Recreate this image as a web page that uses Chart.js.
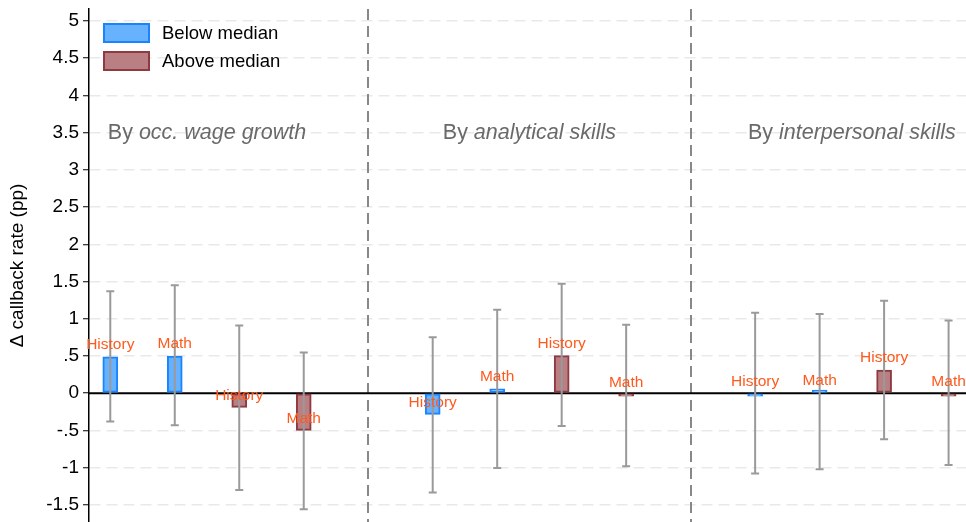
<!DOCTYPE html>
<html>
<head>
<meta charset="utf-8">
<script src="https://cdn.jsdelivr.net/npm/chart.js@4"></script>
<style>
  html, body { margin: 0; padding: 0; background: #fff; }
  #wrap { width: 966px; height: 522px; }
</style>
</head>
<body>
<div id="wrap"><canvas id="chart"></canvas></div>
<script>
// slot positions along the x axis (4 and 9 are the group separators)
const belowX = [0, 1, 5, 6, 10, 11];
const aboveX = [2, 3, 7, 8, 12, 13];
const separatorX = [4, 9];

const belowLabels = ['History', 'Math', 'History', 'Math', 'History', 'Math'];
const aboveLabels = ['History', 'Math', 'History', 'Math', 'History', 'Math'];

// point estimates and 95% CI
const belowVals = [0.49, 0.50, -0.285, 0.06, -0.01, 0.01];
const belowLo = [-0.38, -0.43, -1.335, -1.005, -1.08, -1.02];
const belowHi = [1.37, 1.45, 0.75, 1.12, 1.08, 1.065];

const aboveVals = [-0.19, -0.50, 0.505, -0.02, 0.31, -0.01];
const aboveLo = [-1.30, -1.56, -0.44, -0.98, -0.62, -0.965];
const aboveHi = [0.91, 0.545, 1.47, 0.92, 1.24, 0.975];

const sectionCenters = [1.5, 6.5, 11.5];
const sectionPrefix = ['By ', 'By ', 'By '];
const sectionTitles = ['occ. wage growth', 'analytical skills', 'interpersonal skills'];
const sectionY = 3.5;

const yTicks = [-1.5, -1, -0.5, 0, 0.5, 1, 1.5, 2, 2.5, 3, 3.5, 4, 4.5, 5];
const yTickLabels = ['-1.5', '-1', '-.5', '0', '.5', '1', '1.5', '2', '2.5', '3', '3.5', '4', '4.5', '5'];

const FONT = '"Liberation Sans", Arial, Helvetica, sans-serif';
const colors = {
    belowFill: '#66b2ff',
    belowLine: '#1a84ff',
    aboveFill: '#b97f83',
    aboveLine: '#8d3a41',
    ci: '#9a9a9a',
    label: '#ff5a1e',
    section: '#6a6a6a'
};

const toPoints = (xs, ys) => xs.map((x, i) => ({ x: x, y: ys[i] }));

/**
 * Background decorations: group separators, zero line, section titles
 */
const backdrop = {
    id: 'backdrop',
    beforeDatasetsDraw(chart) {
        const { ctx, chartArea, scales: { x, y } } = chart;
        ctx.save();
        ctx.strokeStyle = '#888';
        ctx.lineWidth = 2;
        ctx.setLineDash([11, 6]);
        separatorX.forEach(v => {
            const px = Math.round(x.getPixelForValue(v));
            ctx.beginPath();
            ctx.moveTo(px, chartArea.top);
            ctx.lineTo(px, chartArea.bottom);
            ctx.stroke();
        });
        ctx.setLineDash([]);
        ctx.strokeStyle = '#000';
        ctx.lineWidth = 2;
        const py = y.getPixelForValue(0);
        ctx.beginPath();
        ctx.moveTo(chartArea.left, py);
        ctx.lineTo(chartArea.right, py);
        ctx.stroke();

        ctx.fillStyle = colors.section;
        ctx.textBaseline = 'middle';
        ctx.textAlign = 'left';
        sectionCenters.forEach((c, i) => {
            ctx.font = '21.5px ' + FONT;
            const w1 = ctx.measureText(sectionPrefix[i]).width;
            ctx.font = 'italic 21.5px ' + FONT;
            const w2 = ctx.measureText(sectionTitles[i]).width;
            const left = x.getPixelForValue(c) - (w1 + w2) / 2;
            const ty = y.getPixelForValue(sectionY);
            ctx.font = '21.5px ' + FONT;
            ctx.fillText(sectionPrefix[i], left, ty);
            ctx.font = 'italic 21.5px ' + FONT;
            ctx.fillText(sectionTitles[i], left + w1, ty);
        });
        ctx.restore();
    }
};

/**
 * Confidence intervals, bar labels and legend
 */
const overlay = {
    id: 'overlay',
    afterDatasetsDraw(chart) {
        const { ctx, chartArea, scales: { x, y } } = chart;
        ctx.save();
        const drawCI = (xs, lo, hi) => {
            ctx.strokeStyle = colors.ci;
            ctx.lineWidth = 2;
            xs.forEach((v, i) => {
                const px = x.getPixelForValue(v);
                const y1 = y.getPixelForValue(lo[i]);
                const y2 = y.getPixelForValue(hi[i]);
                ctx.beginPath();
                ctx.moveTo(px, y1);
                ctx.lineTo(px, y2);
                ctx.moveTo(px - 4, y1);
                ctx.lineTo(px + 4, y1);
                ctx.moveTo(px - 4, y2);
                ctx.lineTo(px + 4, y2);
                ctx.stroke();
            });
        };
        drawCI(belowX, belowLo, belowHi);
        drawCI(aboveX, aboveLo, aboveHi);

        ctx.font = '15.5px ' + FONT;
        ctx.fillStyle = colors.label;
        ctx.textAlign = 'center';
        ctx.textBaseline = 'middle';
        const drawLabels = (xs, vals, labels) => {
            xs.forEach((v, i) => {
                ctx.fillText(labels[i], x.getPixelForValue(v), y.getPixelForValue(vals[i]) - 12);
            });
        };
        drawLabels(belowX, belowVals, belowLabels);
        drawLabels(aboveX, aboveVals, aboveLabels);

        // legend
        ctx.font = '18.5px ' + FONT;
        ctx.textAlign = 'left';
        chart.data.datasets.forEach((ds, i) => {
            const bx = chartArea.left + 15;
            const by = chartArea.top + 15 + i * 28;
            ctx.fillStyle = ds.backgroundColor;
            ctx.fillRect(bx, by, 45, 18);
            ctx.strokeStyle = ds.borderColor;
            ctx.lineWidth = 2;
            ctx.strokeRect(bx, by, 45, 18);
            ctx.fillStyle = '#000';
            ctx.fillText(ds.label, bx + 58, by + 10);
        });
        ctx.restore();
    }
};

new Chart(document.getElementById('chart'), {
    type: 'bar',
    data: {
        datasets: [{
            label: 'Below median',
            data: toPoints(belowX, belowVals),
            backgroundColor: colors.belowFill,
            borderColor: colors.belowLine,
            borderWidth: 2,
            borderSkipped: false,
            barThickness: 15,
            minBarLength: 3
        }, {
            label: 'Above median',
            data: toPoints(aboveX, aboveVals),
            backgroundColor: colors.aboveFill,
            borderColor: colors.aboveLine,
            borderWidth: 2,
            borderSkipped: false,
            barThickness: 15,
            minBarLength: 3
        }]
    },
    options: {
        responsive: true,
        maintainAspectRatio: false,
        animation: false,
        layout: { padding: { top: 9, left: 0, right: 0, bottom: 0 } },
        plugins: {
            legend: { display: false },
            tooltip: { enabled: false }
        },
        scales: {
            x: {
                type: 'linear',
                display: false,
                offset: false,
                min: -0.33,
                max: 13.27
            },
            y: {
                min: -1.73,
                max: 5.16,
                afterBuildTicks: (scale) => {
                    scale.ticks = yTicks.map(v => ({ value: v }));
                },
                afterFit: (scale) => {
                    scale.width = 89;
                    scale.paddingTop = 0;
                    scale.paddingBottom = 0;
                },
                ticks: {
                    color: '#000',
                    padding: 4,
                    font: { family: FONT, size: 19 },
                    callback: (value) => {
                        const idx = yTicks.indexOf(value);
                        return idx >= 0 ? yTickLabels[idx] : '';
                    }
                },
                grid: {
                    color: (c) => (c.tick && c.tick.value === 0 ? 'rgba(0,0,0,0)' : '#e9e9e9'),
                    lineWidth: 1.5,
                    tickColor: '#000',
                    tickLength: 6,
                    tickWidth: 1
                },
                border: {
                    display: true,
                    color: '#000',
                    width: 1.5,
                    dash: [11, 6]
                },
                title: {
                    display: true,
                    text: 'Δ callback rate (pp)',
                    color: '#000',
                    font: { family: FONT, size: 19 },
                    padding: { top: 6, bottom: 0 }
                }
            }
        },
        datasets: {
            bar: { grouped: false }
        }
    },
    plugins: [backdrop, overlay]
});
</script>
</body>
</html>
